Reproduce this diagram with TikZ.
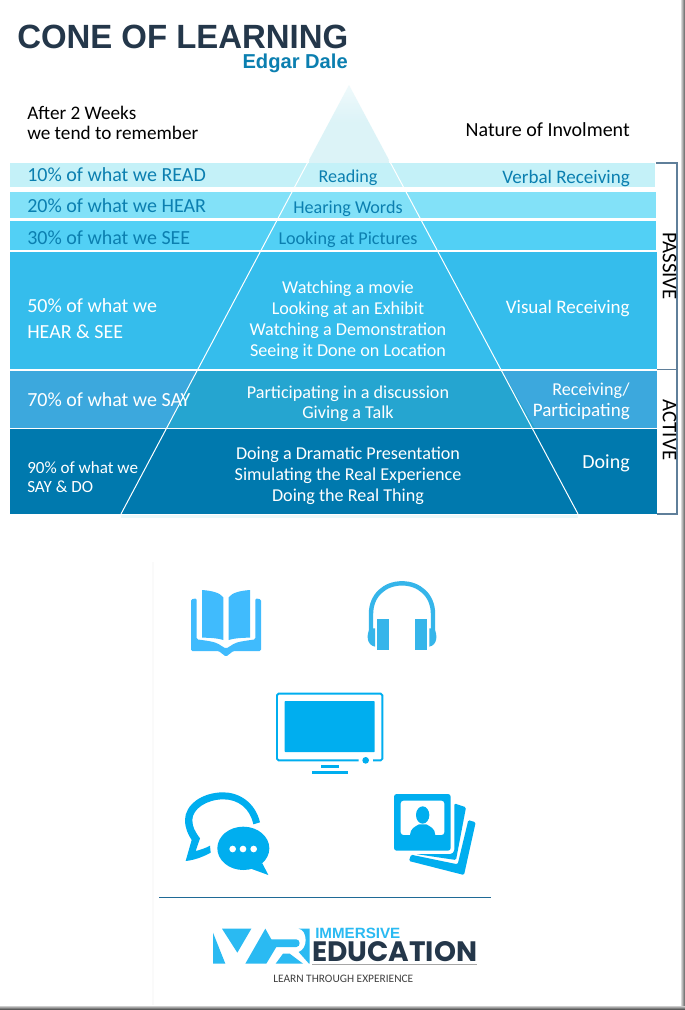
\documentclass[tikz,border=0pt]{standalone}
\usepackage{fontspec}
\usepackage{graphicx}
\setmainfont{Carlito}
\newfontfamily\titlefont{Liberation Sans}
\newfontfamily\popfont{Poppins}
\definecolor{bandA}{HTML}{C4F1F8}
\definecolor{bandB}{HTML}{82E1F8}
\definecolor{bandC}{HTML}{52D0F5}
\definecolor{bandD}{HTML}{35BDEC}
\definecolor{bandE}{HTML}{3CA8DD}
\definecolor{bandEc}{HTML}{25A5D0}
\definecolor{bandF}{HTML}{0079AE}
\definecolor{txtblue}{HTML}{0B7FB0}
\definecolor{navy}{HTML}{24374A}
\definecolor{coneTop}{HTML}{DCF3F7}
\definecolor{brk}{HTML}{5F7F9A}
\definecolor{iconA}{HTML}{40BBFD}
\definecolor{iconB}{HTML}{35B5EA}
\definecolor{iconC}{HTML}{00AEEF}
\definecolor{logoblue}{HTML}{2ABAF2}
\definecolor{rulecol}{HTML}{1F6A96}
\tikzset{
  body/.style={inner sep=0pt,yshift=-2.25pt,font=\fontsize{13.6}{15}\selectfont},
  big/.style={font=\fontsize{15}{16}\selectfont},
  mid/.style={font=\fontsize{14.3}{16}\selectfont},
  ll/.style={body,anchor=mid west},
  cc/.style={body,anchor=mid},
  rr/.style={body,anchor=mid east},
  wht/.style={text=white},
  blu/.style={text=txtblue},
  coneedge/.style={draw=white,line width=0.75pt},
  bracket/.style={draw=brk,line width=0.9pt},
  side/.style={inner sep=0pt,font=\fontsize{15.6}{16}\selectfont,rotate=-90,text=black,anchor=mid}
}
\begin{document}
\begin{tikzpicture}[x=0.75pt,y=-0.75pt]
\useasboundingbox (0,0) rectangle (685,1010);
\fill[white] (0,0) rectangle (685,1010);
% bands
\fill[bandA] (10,163) rectangle (655,187);
\fill[bandB] (10,192) rectangle (656,218);
\fill[bandC] (10,221) rectangle (656,250);
\fill[bandD] (10,252) rectangle (657,369);
\fill[bandE] (10,371) rectangle (657,428);
\fill[bandEc] (197,371) -- (502,371) -- (535,428) -- (166,428) -- cycle;
\fill[bandF] (10,429) rectangle (657,514);
% cone
\shade[top color=coneTop!45,bottom color=coneTop,middle color=coneTop] (349,85) -- (389,160) -- (309,160) -- cycle;
\fill[coneTop] (309,160) rectangle (389,163);
\fill[coneTop!60] (121,514) rectangle (578,518);
\draw[coneedge] (309,160) -- (121,514);
\draw[coneedge] (389,160) -- (578,514);
\draw[white,line width=0.9pt] (10,370) -- (657,370);
\draw[white,line width=0.9pt] (166,428.5) -- (535,428.5);
\draw[white,line width=0.6pt] (121,514.5) -- (578,514.5);
% bracket
\draw[bracket] (656,163) -- (677,163) -- (677,514) -- (657,514);
\draw[bracket] (657,369.5) -- (677,369.5);
% title
\node[inner sep=0pt,anchor=south west,text=navy] (title) at (17,49.5) {\resizebox{248.25pt}{17.6pt}{\titlefont\bfseries CONE OF LEARNING}};
\node[inner sep=0pt,anchor=mid east,text=txtblue,yshift=-2.25pt] (author) at (348,62) {\titlefont\bfseries\fontsize{15.1}{16}\selectfont Edgar Dale};
% heads
\node[ll,font=\fontsize{14.4}{16}\selectfont] (after) at (27,113) {After 2 Weeks};
\node[ll,font=\fontsize{14.4}{16}\selectfont] (tend) at (27,133) {we tend to remember};
\node[rr,big] (nature) at (630,130) {Nature of Involment};
% left column
\node[ll,blu,big] (l1) at (27,175) {10\% of what we READ};
\node[ll,blu,big] (l2) at (27,206) {20\% of what we HEAR};
\node[ll,blu,big] (l3) at (27,238) {30\% of what we SEE};
\node[ll,wht,big] (l4a) at (27,306) {50\% of what we};
\node[ll,wht,big] (l4b) at (27,332) {HEAR \& SEE};
\node[ll,wht,big] (l5) at (27,400) {70\% of what we SAY};
\node[ll,wht,font=\fontsize{12.8}{14}\selectfont] (l6a) at (27,467) {90\% of what we};
\node[ll,wht,font=\fontsize{12.8}{14}\selectfont] (l6b) at (27,486) {SAY \& DO};
% centre column
\node[cc,blu] (c1) at (348,176) {Reading};
\node[cc,blu] (c2) at (348,207) {Hearing Words};
\node[cc,blu] (c3) at (348,238) {Looking at Pictures};
\node[cc,wht] (c4a) at (348,287) {Watching a movie};
\node[cc,wht] (c4b) at (348,308) {Looking at an Exhibit};
\node[cc,wht] (c4c) at (348,329) {Watching a Demonstration};
\node[cc,wht] (c4d) at (348,350) {Seeing it Done on Location};
\node[cc,wht] (c5a) at (348,392) {Participating in a discussion};
\node[cc,wht] (c5b) at (348,412) {Giving a Talk};
\node[cc,wht] (c6a) at (348,453) {Doing a Dramatic Presentation};
\node[cc,wht] (c6b) at (348,474) {Simulating the Real Experience};
\node[cc,wht] (c6c) at (348,495) {Doing the Real Thing};
% right column
\node[rr,blu,mid] (r1) at (630,177) {Verbal Receiving};
\node[rr,wht,mid] (r4) at (630,307) {Visual Receiving};
\node[rr,wht] (r5a) at (630,389) {Receiving/};
\node[rr,wht,mid] (r5b) at (630,410) {Participating};
\node[rr,wht,big] (r6) at (630,462) {Doing};
\node[side] (passive) at (666,266) {PASSIVE};
\node[side] (active) at (666,430) {ACTIVE};
% faint panel edge
\draw[black!2!white,line width=0.8pt] (153,562) -- (153,1005);
% book + headphones + tv
\begin{scope}[shift={(170,570)},x=0.25pt,y=-0.25pt]
  \fill[iconA,rounded corners=1pt] (63,88) -- (80,85) -- (80,208) .. controls (110,212) and (135,215) .. (150,225) -- (168,236) -- (186,225) .. controls (200,215) and (230,212) .. (256,208) -- (256,85) -- (273,88) -- (273,243) -- (190,243) -- (168,260) -- (146,243) -- (63,243) -- cycle;
  \fill[iconA] (96,60) .. controls (125,62) and (150,68) .. (160,82) -- (160,210) .. controls (145,205) and (120,203) .. (96,203) -- cycle;
  \fill[iconA] (240,60) .. controls (211,62) and (186,68) .. (176,82) -- (176,210) .. controls (191,205) and (216,203) .. (240,203) -- cycle;
  % headphones
  \draw[iconB,line width=3.3pt] (603,190) -- (603,132) .. controls (603,75) and (645,40) .. (696,40) .. controls (747,40) and (789,75) .. (789,132) -- (789,190);
  \fill[iconB] (622,148) rectangle (657,240);
  \fill[iconB] (736,148) rectangle (771,240);
  \fill[iconB] (600,175) .. controls (588,195) and (590,225) .. (615,230) -- (615,175) -- cycle;
  \fill[iconB] (792,175) .. controls (804,195) and (802,225) .. (778,230) -- (778,175) -- cycle;
  % tv
  \draw[iconC,line width=1.4pt,rounded corners=1.2pt] (566,571) -- (321,571) -- (321,371) -- (637,371) -- (637,571) -- (609,571);
  \fill[iconC,rounded corners=0.5pt] (344,393) rectangle (614,546);
  \fill[iconC] (587,571) circle[radius=10];
  \fill[iconC] (452,584) rectangle (507,593);
  \fill[iconC] (425,602) rectangle (534,612);
\end{scope}
% chat
\begin{scope}[shift={(175,785)},x=0.25pt,y=-0.25pt]
  \fill[iconC] (255,112) .. controls (240,50) and (190,22) .. (145,22) .. controls (80,22) and (30,60) .. (30,105) .. controls (30,130) and (40,150) .. (50,165) -- (32,228) .. controls (60,225) and (85,215) .. (107,203) -- (105,182) .. controls (90,190) and (75,195) .. (62,198) -- (75,160) .. controls (60,140) and (52,125) .. (52,105) .. controls (52,72) and (95,43) .. (145,43) .. controls (190,43) and (225,70) .. (235,118) -- cycle;
  \fill[iconC] (205,190) ellipse[x radius=78,y radius=65];
  \fill[iconC] (262,235) -- (280,270) -- (225,250) -- cycle;
  \fill[white] (173,192) circle[radius=10];
  \fill[white] (204,192) circle[radius=10];
  \fill[white] (236,192) circle[radius=10];
\end{scope}
% photos
\begin{scope}[shift={(385,785)},x=0.25pt,y=-0.25pt]
  \fill[iconC,rounded corners=1pt] (250,105) -- (272,112) -- (237,270) -- (72,228) -- (78,209) -- (218,238) -- cycle;
  \fill[iconC,rounded corners=1pt] (208,55) -- (243,67) -- (213,225) -- (92,207) -- (200,207) -- (208,198) -- cycle;
  \fill[iconC,rounded corners=2pt,even odd rule] (27,27) rectangle (197,197) (47,47) rectangle (178,150);
  \fill[iconC] (113,90) ellipse[x radius=20,y radius=26];
  \fill[iconC] (75,150) .. controls (76,130) and (90,125) .. (102,118) -- (124,118) .. controls (136,125) and (150,130) .. (151,150) -- cycle;
\end{scope}
% rule
\draw[rulecol,line width=0.65pt] (159,897) -- (491,897);
% logo
\begin{scope}[shift={(208,922)},x=0.25pt,y=-0.25pt]
  \fill[logoblue] (15,32) -- (52,125) -- (15,125) -- cycle;
  \fill[logoblue] (42,20) -- (130,20) -- (88,92) -- cycle;
  \fill[logoblue] (172,20) -- (190,52) -- (265,52) .. controls (278,52) and (278,75) .. (265,75) -- (205,75) -- (175,125) -- (112,125) -- cycle;
  \fill[logoblue] (203,125) -- (225,95) -- (245,95) -- (285,125) -- cycle;
  \fill[logoblue] (272,20) -- (305,20) -- (305,125) -- (303,125) -- (272,90) .. controls (285,85) and (293,72) .. (293,55) .. controls (293,35) and (285,22) .. (272,20) -- cycle;
\end{scope}
\node[inner sep=0pt,anchor=south west,text=logoblue] (immersive) at (315,938.5) {\resizebox{63.75pt}{7.8pt}{\titlefont\bfseries IMMERSIVE}};
\node[inner sep=0pt,anchor=south west,text=navy] (education) at (312,962) {\resizebox{123.75pt}{15pt}{\popfont\bfseries EDUCATION}};
\draw[black!35,line width=0.5pt] (312,964.5) -- (477,964.5);
\node[inner sep=0pt,anchor=mid west,text=black!75] (learn) at (273,979) {\resizebox{105pt}{!}{LEARN THROUGH EXPERIENCE}};
% frame shadow
\shade[left color=black!15,right color=black!65] (681,0) rectangle (685,1010);
\shade[top color=black!20,bottom color=black!80] (0,1006) rectangle (685,1010);
\end{tikzpicture}
\end{document}
